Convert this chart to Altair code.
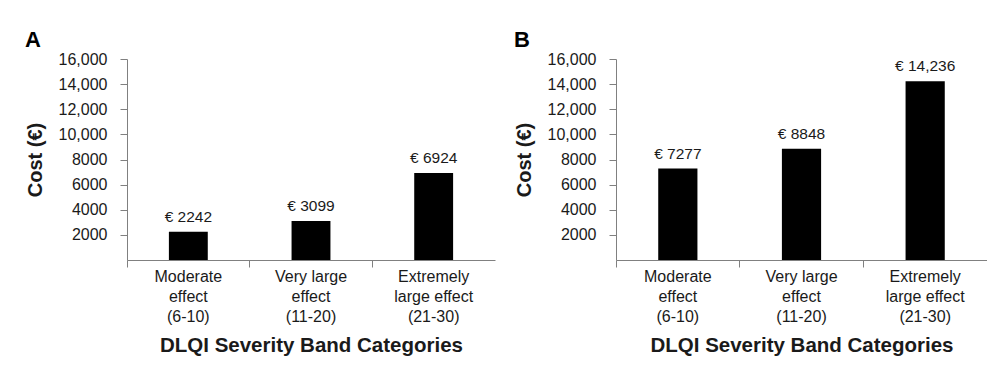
import altair as alt
import pandas as pd

categories = ["Moderate|effect|(6-10)", "Very large|effect|(11-20)", "Extremely|large effect|(21-30)"]
cost_a = [2242, 3099, 6924]
cost_b = [7277, 8848, 14236]
y_ticks = [2000, 4000, 6000, 8000, 10000, 12000, 14000, 16000]
panel_letters = ["A", "B"]

FONT = "Liberation Sans"
TEXT = "#1a1a1a"
AXIS = "#808080"
FMT = "datum.value >= 10000 ? format(datum.value, ',') : format(datum.value, 'd')"


def panel(values, letter, width):
    df = pd.DataFrame({"category": categories, "cost": values})
    base = alt.Chart(df).encode(
        x=alt.X(
            "category:N",
            sort=categories,
            scale=alt.Scale(paddingInner=0, paddingOuter=0),
            axis=alt.Axis(
                title="DLQI Severity Band Categories",
                labelExpr="split(datum.label, '|')",
                labelAngle=0,
                labelFontSize=16,
                labelLineHeight=20,
                labelPadding=1,
                labelColor=TEXT,
                labelFont=FONT,
                bandPosition=0,
                tickSize=7,
                tickColor=AXIS,
                domainColor=AXIS,
                titleFont=FONT,
                titleFontSize=20.5,
                titleFontWeight="bold",
                titleColor=TEXT,
                titlePadding=11,
            ),
        ),
        y=alt.Y(
            "cost:Q",
            scale=alt.Scale(domain=[0, 16000], nice=False),
            axis=alt.Axis(
                title="Cost (€)",
                values=y_ticks,
                labelExpr=FMT,
                labelFontSize=16,
                labelColor=TEXT,
                labelFont=FONT,
                labelPadding=13,
                tickSize=7,
                tickColor=AXIS,
                domainColor=AXIS,
                grid=False,
                titleFont=FONT,
                titleFontSize=20,
                titleFontWeight="bold",
                titleColor=TEXT,
                titlePadding=13,
            ),
        ),
    )
    bars = base.mark_bar(color="black", width=alt.RelativeBandSize(0.317))
    labels = base.transform_calculate(
        lab="'€ ' + (datum.cost >= 10000 ? format(datum.cost, ',') : format(datum.cost, 'd'))"
    ).mark_text(
        font=FONT, fontSize=15.5, color=TEXT, baseline="alphabetic", dy=-10
    ).encode(text="lab:N")
    return alt.layer(bars, labels).properties(
        width=width,
        height=201,
        title=alt.TitleParams(
            letter, anchor="start", frame="bounds", font=FONT, fontSize=22,
            fontWeight="bold", color="black", offset=-1,
        ),
    )


chart = alt.hconcat(
    panel(cost_a, panel_letters[0], 368),
    panel(cost_b, panel_letters[1], 371),
    spacing=19,
).properties(
    padding={"left": 17, "top": 21, "right": 0, "bottom": 0},
).configure_view(stroke=None)

chart.save("out.html", embed_options={"renderer": "svg", "actions": False})
